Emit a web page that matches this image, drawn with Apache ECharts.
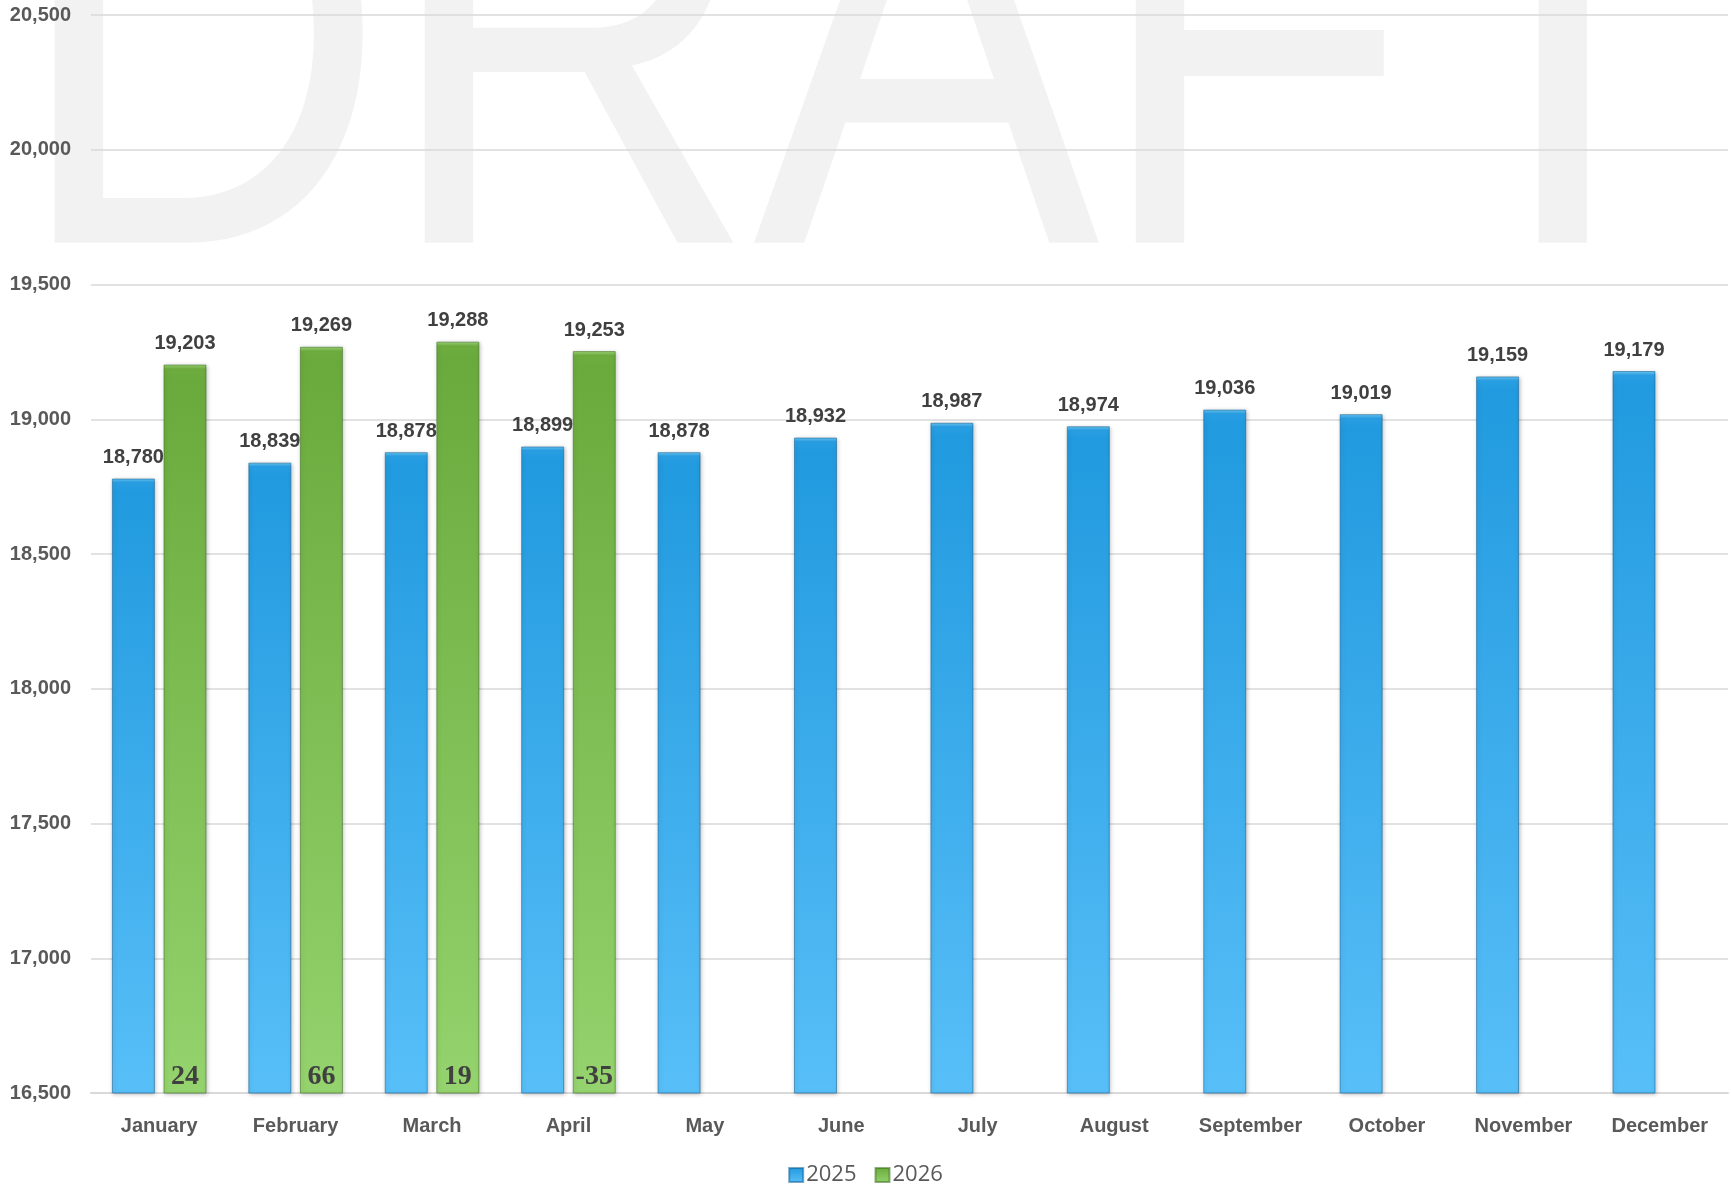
<!DOCTYPE html>
<html>
<head>
<meta charset="utf-8">
<title>Monthly totals 2025 vs 2026</title>
<script src="https://cdn.jsdelivr.net/npm/echarts@6/dist/echarts.min.js"></script>
<style>
  html, body { margin: 0; padding: 0; background: #ffffff; }
  #chart { width: 1731px; height: 1186px; }
</style>
</head>
<body>
<div id="chart"></div>
<script>
// Months on the category axis
const months = ['January', 'February', 'March', 'April', 'May', 'June',
  'July', 'August', 'September', 'October', 'November', 'December'];

// Monthly totals
const values2025 = [18780, 18839, 18878, 18899, 18878, 18932, 18987, 18974, 19036, 19019, 19159, 19179];
const values2026 = [19203, 19269, 19288, 19253, null, null, null, null, null, null, null, null];

// Month-over-month change written at the foot of each 2026 bar
const change2026 = [24, 66, 19, -35, null, null, null, null, null, null, null, null];

// Value axis range
const yMin = 16500;
const yMax = 20500;
const yStep = 500;

const fmt = v => Math.round(v).toString().replace(/\B(?=(\d{3})+(?!\d))/g, ',');

const sans = "'Liberation Sans', Arial, sans-serif";

const blueFill = new echarts.graphic.LinearGradient(0, 0, 0, 1, [
  { offset: 0, color: '#6fcbf6' },
  { offset: 0.006, color: '#2a9fe3' },
  { offset: 0.02, color: '#219adf' },
  { offset: 1, color: '#58bff8' }
]);
const greenFill = new echarts.graphic.LinearGradient(0, 0, 0, 1, [
  { offset: 0, color: '#9ed77a' },
  { offset: 0.006, color: '#6eac3f' },
  { offset: 0.02, color: '#6aaa3c' },
  { offset: 1, color: '#94d36d' }
]);

const barW = 43;
const barGap = '20%';

const chart = echarts.init(document.getElementById('chart'), null, { renderer: 'canvas' });

// Big faint watermark letters across the top (baseline at y = 240)
const markLetters = [
  { ch: 'D', x: 12 },
  { ch: 'R', x: 382 },
  { ch: 'A', x: 753 },
  { ch: 'F', x: 1093 },
  { ch: 'T', x: 1404 }
];

chart.setOption({
  backgroundColor: '#ffffff',
  animation: false,
  graphic: markLetters.map(l => ({
    type: 'text',
    z: -10,
    silent: true,
    x: l.x,
    y: 359,
    scaleY: 1.15,
    originX: 0,
    originY: -119,
    style: {
      text: l.ch,
      font: "520px 'Liberation Sans', Arial, sans-serif",
      fill: '#f2f2f2',
      verticalAlign: 'bottom'
    }
  })),
  grid: { left: 91, right: 3, top: 15, bottom: 93, containLabel: false },
  legend: {
    data: ['2025', '2026'],
    top: 1159,
    left: 'center',
    icon: 'rect',
    itemWidth: 14,
    itemHeight: 14,
    itemGap: 18,
    textStyle: { fontFamily: "'Open Sans', sans-serif", fontSize: 22, color: '#595959', padding: [0, 0, 0, -2] }
  },
  xAxis: [
    {
      type: 'category',
      data: months,
      axisTick: { show: false },
      axisLine: { show: true, lineStyle: { color: '#d9d9d9', width: 2 } },
      axisLabel: { fontFamily: sans, fontWeight: 'bold', fontSize: 20, color: '#595959', margin: 23 }
    },
    {
      type: 'category',
      data: months,
      show: false
    }
  ],
  yAxis: {
    type: 'value',
    min: yMin,
    max: yMax,
    interval: yStep,
    axisLine: { show: false },
    axisTick: { show: false },
    splitLine: { lineStyle: { color: '#d9d9d9', width: 1.5 } },
    axisLabel: {
      fontFamily: sans, fontWeight: 'bold', fontSize: 20, color: '#595959', margin: 20,
      formatter: v => fmt(v)
    }
  },
  series: [
    {
      name: '2025',
      type: 'bar',
      data: values2025,
      barWidth: barW,
      barGap: barGap,
      itemStyle: {
        color: blueFill,
        borderColor: 'rgba(16, 96, 150, 0.55)',
        borderWidth: 1,
        shadowColor: 'rgba(0, 0, 0, 0.25)',
        shadowBlur: 4,
        shadowOffsetX: 1,
        shadowOffsetY: 1
      },
      label: {
        show: true, position: 'top', distance: 11,
        fontFamily: sans, fontWeight: 'bold', fontSize: 20, color: '#404040',
        formatter: p => fmt(p.value)
      }
    },
    {
      name: '2026',
      type: 'bar',
      data: values2026,
      barWidth: barW,
      barGap: barGap,
      itemStyle: {
        color: greenFill,
        borderColor: 'rgba(60, 110, 30, 0.55)',
        borderWidth: 1,
        shadowColor: 'rgba(0, 0, 0, 0.25)',
        shadowBlur: 4,
        shadowOffsetX: 1,
        shadowOffsetY: 1
      },
      label: {
        show: true, position: 'top', distance: 11,
        fontFamily: sans, fontWeight: 'bold', fontSize: 20, color: '#404040',
        formatter: p => (p.value == null ? '' : fmt(p.value))
      }
    },
    // Companion pair on the hidden axis: keeps the same slots so the change
    // figures sit at the foot of the 2026 bars
    {
      name: 'slot',
      type: 'bar',
      xAxisIndex: 1,
      data: values2025.map(() => null),
      barWidth: barW,
      barGap: barGap,
      silent: true
    },
    {
      name: 'change',
      type: 'bar',
      xAxisIndex: 1,
      data: values2026,
      barWidth: barW,
      barGap: barGap,
      silent: true,
      z: 5,
      itemStyle: { color: 'rgba(0,0,0,0)' },
      label: {
        show: true,
        position: 'insideBottom',
        distance: 2,
        fontFamily: "'Liberation Serif', 'DejaVu Serif', serif",
        fontWeight: 'bold',
        fontSize: 28,
        color: '#404040',
        formatter: p => (change2026[p.dataIndex] == null ? '' : String(change2026[p.dataIndex]))
      }
    }
  ]
});
</script>
</body>
</html>
